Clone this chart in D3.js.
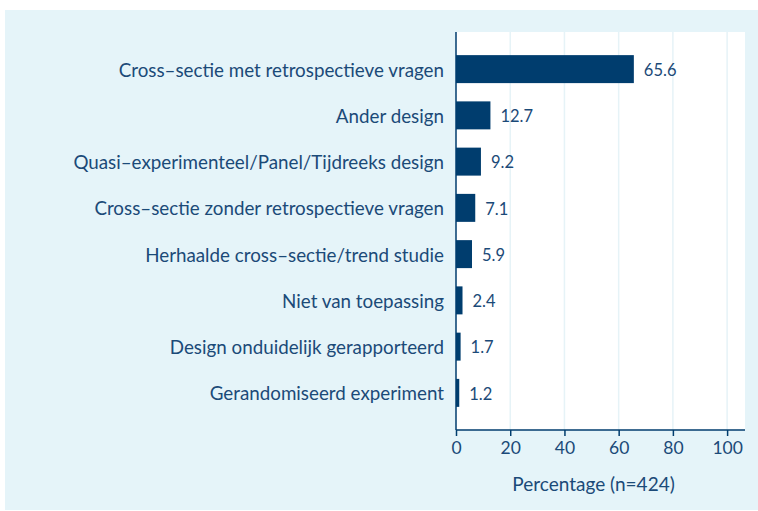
<!DOCTYPE html>
<html>
<head>
<meta charset="utf-8">
<script src="https://cdn.jsdelivr.net/npm/d3@7"></script>
<style>
  body { margin: 0; background: #fff; }
  svg text { font-family: Lato, "Open Sans", sans-serif; }
</style>
</head>
<body>
<div id="chart"></div>
<script>
// designs and their share (%)
const designs = [
    "Cross\u2013sectie met retrospectieve vragen",
    "Ander design",
    "Quasi\u2013experimenteel/Panel/Tijdreeks design",
    "Cross\u2013sectie zonder retrospectieve vragen",
    "Herhaalde cross\u2013sectie/trend studie",
    "Niet van toepassing",
    "Design onduidelijk gerapporteerd",
    "Gerandomiseerd experiment"
]
const percentages = [65.6, 12.7, 9.2, 7.1, 5.9, 2.4, 1.7, 1.2]
const xTicks = [0, 20, 40, 60, 80, 100]
const xTitle = "Percentage (n=424)"

const w = 758
const h = 511
const plotLeft = 456, plotRight = 745, plotTop = 32, plotBottom = 430

const barColor = "#003d6e"
const textColor = "#1b4a78"

var svg = d3.select("#chart").append("svg")
    .attr("width", w).attr("height", h)

// light blue panel
svg.append("rect")
    .attr("x", 5).attr("y", 10)
    .attr("width", w - 5).attr("height", 500)
    .attr("fill", "#e5f4f9")

// white plot area
svg.append("rect")
    .attr("x", plotLeft).attr("y", plotTop)
    .attr("width", plotRight - plotLeft).attr("height", plotBottom - plotTop)
    .attr("fill", "#ffffff")

var x = d3.scaleLinear().domain([0, 106.6]).range([plotLeft, plotRight])
var y = d3.scaleBand().domain(designs).range([plotTop, plotBottom])
    .paddingInner(0.395).paddingOuter(0.5)

// gridlines
svg.selectAll(".grid").data(xTicks.filter(d => d > 0))
    .enter().append("line")
    .attr("class", "grid")
    .attr("x1", d => x(d)).attr("x2", d => x(d))
    .attr("y1", plotTop).attr("y2", plotBottom)
    .attr("stroke", "#e6f3f7").attr("stroke-width", 1.5)

// bars
svg.selectAll(".bar").data(percentages)
    .enter().append("rect")
    .attr("class", "bar")
    .attr("x", x(0))
    .attr("y", (d, i) => y(designs[i]))
    .attr("width", d => x(d) - x(0))
    .attr("height", y.bandwidth())
    .attr("fill", barColor)

// value labels
svg.selectAll(".val").data(percentages)
    .enter().append("text")
    .attr("class", "val")
    .attr("x", d => x(d) + 10)
    .attr("y", (d, i) => y(designs[i]) + y.bandwidth() / 2 + 1)
    .attr("dy", "0.35em")
    .attr("font-size", 16.5)
    .attr("fill", textColor)
    .text(d => d.toFixed(1))

// category labels
svg.selectAll(".cat").data(designs)
    .enter().append("text")
    .attr("class", "cat")
    .attr("x", plotLeft - 12)
    .attr("y", d => y(d) + y.bandwidth() / 2 + 1)
    .attr("dy", "0.35em")
    .attr("text-anchor", "end")
    .attr("font-size", 18.8)
    .attr("fill", textColor)
    .text(d => d)

// y axis line
svg.append("line")
    .attr("x1", plotLeft).attr("x2", plotLeft)
    .attr("y1", plotTop).attr("y2", plotBottom)
    .attr("stroke", barColor).attr("stroke-width", 1.5)

// x axis
var xAxis = svg.append("g")
    .attr("transform", "translate(0," + plotBottom + ")")
    .call(d3.axisBottom(x).tickValues(xTicks).tickSize(6).tickPadding(6))
xAxis.select(".domain")
    .attr("d", "M" + plotLeft + ",0H" + plotRight)
    .attr("stroke", barColor).attr("stroke-width", 1.5)
xAxis.selectAll(".tick line").attr("stroke", barColor).attr("stroke-width", 1.5)
xAxis.selectAll(".tick text")
    .attr("font-size", 17.5)
    .attr("fill", textColor)
    .attr("font-family", "Lato, sans-serif")

svg.append("text")
    .attr("x", (x(0) + x(100)) / 2 + 2)
    .attr("y", 491)
    .attr("text-anchor", "middle")
    .attr("font-size", 19)
    .attr("fill", textColor)
    .text(xTitle)
</script>
</body>
</html>
